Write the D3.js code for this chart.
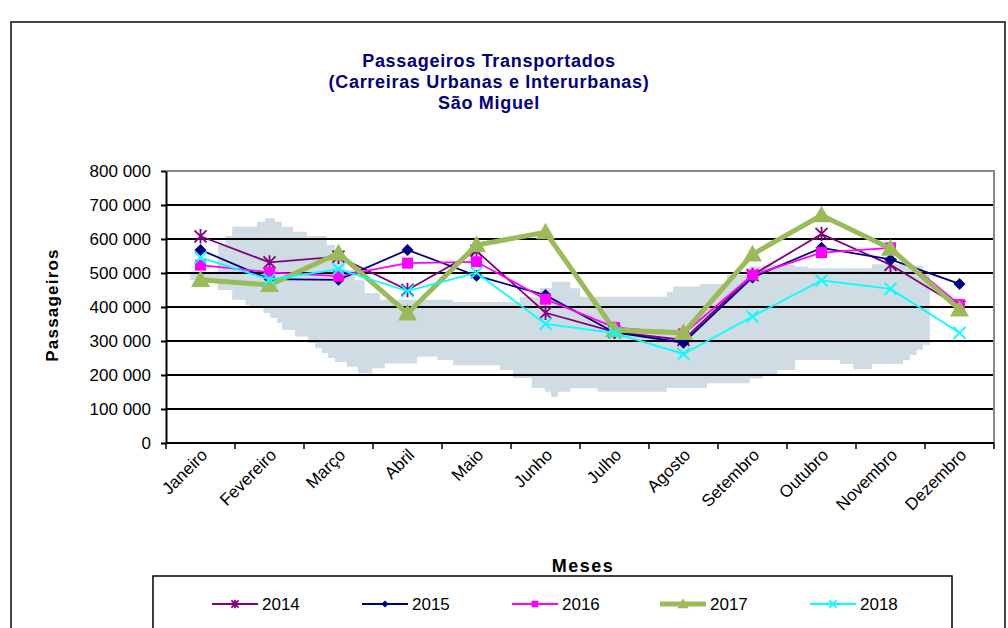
<!DOCTYPE html>
<html><head><meta charset="utf-8">
<script src="https://cdn.jsdelivr.net/npm/d3@7"></script>
<style>body{margin:0;background:#fff}svg{display:block}</style>
</head><body>
<svg id="c" width="1008" height="628"></svg>
<script>
const months = ["Janeiro","Fevereiro","Março","Abril","Maio","Junho","Julho","Agosto","Setembro","Outubro","Novembro","Dezembro"];
const yTicks = [0,100000,200000,300000,400000,500000,600000,700000,800000];
const years = ["2014","2015","2016","2017","2018"];
const v2014 = [608000,531000,548000,450000,565000,383000,327000,303000,494000,615000,524000,401000];
const v2015 = [568000,482000,480000,568000,492000,435000,325000,295000,487000,574000,540000,468000];
const v2016 = [523000,502000,491000,529000,533000,423000,340000,321000,494000,560000,574000,407000];
const v2017 = [480000,465000,558000,381000,582000,620000,332000,324000,555000,670000,572000,393000];
const v2018 = [545000,481000,511000,447000,501000,350000,323000,262000,372000,478000,453000,324000];
// shaded background range: [month position, value] steps
const bandTop = [[0.35,503000],[0.75,582000],[0.86,609000],[0.96,636000],[1.32,651000],[1.44,661000],[1.58,651000],[1.68,636000],[1.84,621000],[2.04,609000],[2.33,582000],[2.45,553000],[2.59,509000],[2.74,479000],[2.88,441000],[3.10,421000],[4.16,415000],[5.13,430000],[5.42,456000],[5.59,474000],[5.86,455000],[6.00,430000],[7.26,445000],[7.35,460000],[7.74,468000],[8.13,494000],[8.46,519000],[8.65,524000],[9.12,519000],[9.30,514000],[10.23,526000],[10.78,521000],[10.97,503000],[11.07,503000]];
const bandBottom = [[0.35,479000],[0.54,474000],[0.75,450000],[0.96,421000],[1.15,406000],[1.22,397000],[1.41,382000],[1.51,368000],[1.61,353000],[1.68,332000],[1.87,313000],[2.06,294000],[2.16,279000],[2.26,265000],[2.35,250000],[2.45,238000],[2.62,224000],[2.78,205000],[2.99,220000],[3.17,234000],[3.64,254000],[3.93,244000],[4.16,229000],[4.84,215000],[5.03,191000],[5.30,162000],[5.49,151000],[5.58,136000],[5.68,151000],[5.86,161000],[6.25,151000],[7.26,162000],[7.84,176000],[8.46,190000],[8.65,203000],[8.86,215000],[9.12,244000],[9.77,232000],[9.96,217000],[10.23,232000],[10.68,244000],[10.78,259000],[10.88,274000],[10.97,288000],[11.07,288000]];

const svg = d3.select("#c");
const F = "'Liberation Sans', Arial, sans-serif";
const L = 166, R = 994, T = 171, B = 443;
const x = d3.scaleLinear().domain([0,12]).range([L,R]);
const y = d3.scaleLinear().domain([0,800000]).range([B,T]);

// outer frame
svg.append("rect").attr("x",11).attr("y",22).attr("width",994).attr("height",640)
  .attr("fill","none").attr("stroke","#444").attr("stroke-width",2);

// title
const title = ["Passageiros Transportados","(Carreiras Urbanas e Interurbanas)","São Miguel"];
svg.append("g").selectAll("text").data(title).join("text")
  .attr("x",489).attr("y",(d,i)=>67+i*21).attr("text-anchor","middle")
  .attr("font-family",F).attr("font-weight","bold").attr("font-size",18).attr("letter-spacing",0.7).attr("fill","#000080")
  .text(d=>d);

// band polygon (step shaped)
function stepPts(arr){
  const pts=[];
  for(let i=0;i<arr.length-1;i++){pts.push([arr[i][0],arr[i][1]]);pts.push([arr[i+1][0],arr[i][1]]);}
  return pts;
}
const poly = stepPts(bandTop).concat(stepPts(bandBottom).reverse());
svg.append("path").attr("d", d3.line().x(d=>x(d[0])).y(d=>y(d[1]))(poly)+"Z")
  .attr("fill","#cfdce3").attr("stroke","none");

// gridlines
svg.append("g").selectAll("line").data(yTicks.filter(d=>d>0 && d<800000)).join("line")
  .attr("x1",L).attr("x2",R).attr("y1",d=>y(d)).attr("y2",d=>y(d))
  .attr("stroke","#000").attr("stroke-width",2);
// plot border top/right
svg.append("path").attr("d",`M${L},${T}H${R}V${B}`).attr("fill","none").attr("stroke","#888").attr("stroke-width",2);

// y axis
const ya = svg.append("g").attr("transform",`translate(${L},0)`)
  .call(d3.axisLeft(y).tickValues(yTicks).tickSizeInner(5).tickSizeOuter(0).tickPadding(10)
    .tickFormat(d=> d3.format(",")(d).replace(/,/g," ")));
ya.select(".domain").attr("stroke","#000").attr("stroke-width",2);
ya.selectAll(".tick line").attr("stroke","#000").attr("stroke-width",2);
ya.selectAll("text").attr("font-family",F).attr("font-size",17).attr("fill","#000");

// x axis
const xa = svg.append("g").attr("transform",`translate(0,${B})`);
xa.append("line").attr("x1",L).attr("x2",R).attr("stroke","#000").attr("stroke-width",2);
xa.selectAll("line.t").data(d3.range(13)).join("line").attr("class","t")
  .attr("x1",d=>x(d)).attr("x2",d=>x(d)).attr("y1",0).attr("y2",6).attr("stroke","#000").attr("stroke-width",1.5);
xa.selectAll("text").data(months).join("text")
  .attr("transform",(d,i)=>`translate(${x(i+0.5)+8},${13}) rotate(-45)`)
  .attr("text-anchor","end").attr("font-family",F).attr("font-size",17).attr("fill","#000")
  .text(d=>d);

// axis titles
svg.append("text").attr("transform","translate(58,305) rotate(-90)").attr("text-anchor","middle")
  .attr("font-family",F).attr("font-weight","bold").attr("font-size",17).attr("letter-spacing",1.2).text("Passageiros");
svg.append("text").attr("x",583).attr("y",572).attr("text-anchor","middle")
  .attr("font-family",F).attr("font-weight","bold").attr("font-size",18).attr("letter-spacing",1.5).text("Meses");

// series
const series = [
  {name:"2014", vals:v2014, color:"#800080", w:1.8, m:"star"},
  {name:"2015", vals:v2015, color:"#000080", w:1.8, m:"diamond"},
  {name:"2016", vals:v2016, color:"#ff00ff", w:1.8, m:"square"},
  {name:"2017", vals:v2017, color:"#9bbb59", w:5, m:"triangle"},
  {name:"2018", vals:v2018, color:"#00ffff", w:1.8, m:"x"}
];
function marker(g, s, cx, cy, scale){
  const k = scale||1;
  if(s.m==="star"){
    const r=6*k;
    g.append("path").attr("d",`M${cx-r},${cy-r}L${cx+r},${cy+r}M${cx-r},${cy+r}L${cx+r},${cy-r}M${cx},${cy-r*1.2}V${cy+r*1.2}`)
      .attr("stroke",s.color).attr("stroke-width",1.8).attr("fill","none");
  } else if(s.m==="x"){
    const r=6*k;
    g.append("path").attr("d",`M${cx-r},${cy-r}L${cx+r},${cy+r}M${cx-r},${cy+r}L${cx+r},${cy-r}`)
      .attr("stroke",s.color).attr("stroke-width",1.8).attr("fill","none");
  } else if(s.m==="diamond"){
    const r=6*k;
    g.append("path").attr("d",`M${cx},${cy-r}L${cx+r},${cy}L${cx},${cy+r}L${cx-r},${cy}Z`).attr("fill",s.color);
  } else if(s.m==="square"){
    const r=5.5*k;
    g.append("rect").attr("x",cx-r).attr("y",cy-r).attr("width",2*r).attr("height",2*r).attr("fill",s.color);
  } else if(s.m==="triangle"){
    const r=9.5*k;
    g.append("path").attr("d",`M${cx},${cy-r}L${cx+r},${cy+r*0.75}L${cx-r},${cy+r*0.75}Z`).attr("fill",s.color);
  }
}
series.forEach(s=>{
  const g = svg.append("g");
  g.append("path").attr("d", d3.line().x((d,i)=>x(i+0.5)).y(d=>y(d))(s.vals))
    .attr("fill","none").attr("stroke",s.color).attr("stroke-width",s.w).attr("stroke-linejoin","miter");
  s.vals.forEach((v,i)=>marker(g,s,x(i+0.5),y(v)));
});

// legend
svg.append("rect").attr("x",153).attr("y",576).attr("width",799).attr("height",60)
  .attr("fill","#fff").attr("stroke","#000").attr("stroke-width",1.5);
const lx = [212,362,512,660,810];
series.forEach((s,i)=>{
  const g = svg.append("g");
  const x0 = lx[i], ly = 604;
  g.append("line").attr("x1",x0).attr("x2",x0+46).attr("y1",ly).attr("y2",ly)
    .attr("stroke",s.color).attr("stroke-width",s.w<3?2:5);
  marker(g,s,x0+23,ly,0.6);
  g.append("text").attr("x",x0+50).attr("y",ly+6).attr("font-family",F).attr("font-size",17).text(s.name);
});
</script>
</body></html>
